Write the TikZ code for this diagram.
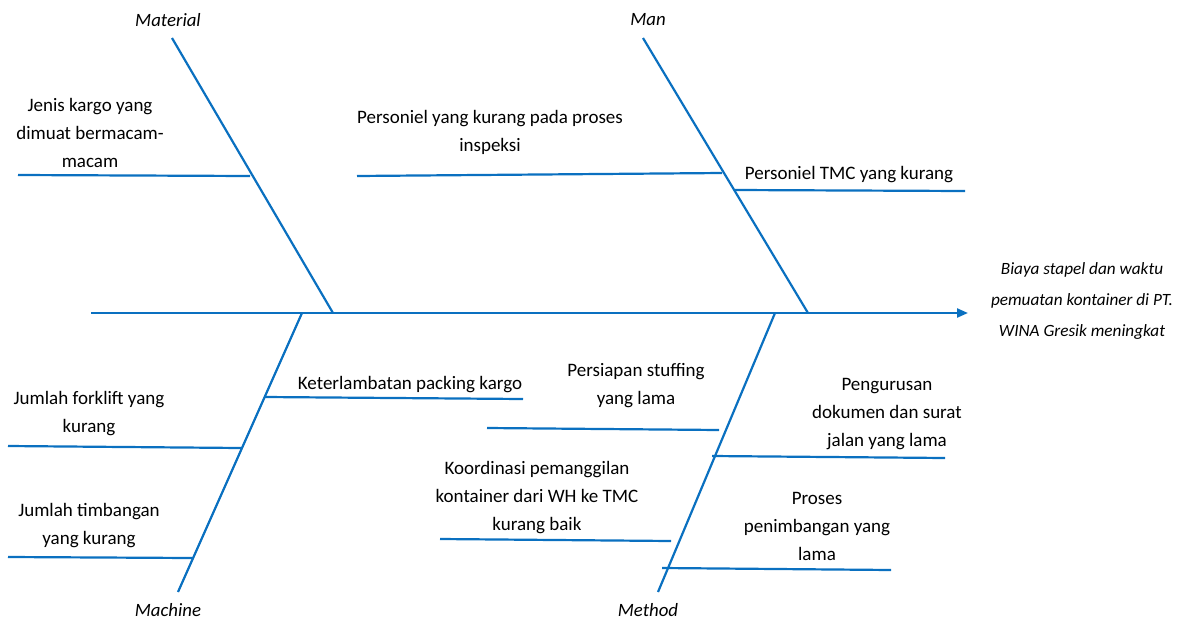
\documentclass[tikz,border=0pt]{standalone}
\usepackage{fontspec}
\setmainfont{Carlito}
\usetikzlibrary{arrows.meta}
\definecolor{bone}{HTML}{0A70C0}
\tikzset{
  bl/.style={draw=bone, line width=2.2pt},
  lbl/.style={align=center, font=\fontsize{19}{28}\selectfont, inner sep=0pt, text=black},
  cat/.style={font=\fontsize{18.8}{20}\selectfont\itshape, inner sep=0pt},
}
\begin{document}
\begin{tikzpicture}[x=1pt,y=-1pt]
\useasboundingbox (0,0) rectangle (1192,619);
% spine
\coordinate (s0) at (91,313);
\coordinate (s1) at (968,313);
\draw[bl, -{Triangle[length=11pt,width=9pt]}] (s0) -- (s1);
% bones
\coordinate (mat0) at (172,38);   \coordinate (mat1) at (333,313);
\coordinate (man0) at (643,38);   \coordinate (man1) at (808,313);
\coordinate (mac0) at (302,313);  \coordinate (mac1) at (178,592);
\coordinate (met0) at (775,313);  \coordinate (met1) at (658,592);
\draw[bl] (mat0) -- (mat1);
\draw[bl] (man0) -- (man1);
\draw[bl] (mac0) -- (mac1);
\draw[bl] (met0) -- (met1);
% category labels
\node[cat] (tmat) at (168,20) {Material};
\node[cat] (tman) at (648,20) {Man};
\node[cat] (tmac) at (168,610) {Machine};
\node[cat] (tmet) at (648,610) {Method};
% effect
\node[lbl, font=\fontsize{17.2}{31}\selectfont\itshape] (eff) at (1082,301) {Biaya stapel dan waktu\\pemuatan kontainer di PT.\\WINA Gresik meningkat};
% sub branches
\coordinate (a0) at (18,175);  \coordinate (a1) at (250,176);
\draw[bl] (a0) -- (a1);
\node[lbl] (ta) at (90,133) {Jenis kargo yang\\dimuat bermacam-\\macam};
\coordinate (b0) at (357,176); \coordinate (b1) at (722,173);
\draw[bl] (b0) -- (b1);
\node[lbl] (tb) at (490,132) {Personiel yang kurang pada proses\\inspeksi};
\coordinate (c0) at (735,190); \coordinate (c1) at (965,191);
\draw[bl] (c0) -- (c1);
\node[lbl] (tc) at (849,175) {Personiel TMC yang kurang};
\coordinate (d0) at (265,397); \coordinate (d1) at (523,399);
\draw[bl] (d0) -- (d1);
\node[lbl] (td) at (410,385) {Keterlambatan packing kargo};
\coordinate (e0) at (8,446); \coordinate (e1) at (241,448);
\draw[bl] (e0) -- (e1);
\node[lbl] (te) at (89,414) {Jumlah forklift yang\\kurang};
\coordinate (f0) at (8,557); \coordinate (f1) at (192,558);
\draw[bl] (f0) -- (f1);
\node[lbl] (tf) at (89,526) {Jumlah timbangan\\yang kurang};
\coordinate (g0) at (487,428); \coordinate (g1) at (719,430);
\draw[bl] (g0) -- (g1);
\node[lbl] (tg) at (636,386) {Persiapan stuffing\\yang lama};
\coordinate (h0) at (712,456); \coordinate (h1) at (945,458);
\draw[bl] (h0) -- (h1);
\node[lbl] (th) at (887,414) {Pengurusan\\dokumen dan surat\\jalan yang lama};
\coordinate (i0) at (440,539); \coordinate (i1) at (671,541);
\draw[bl] (i0) -- (i1);
\node[lbl] (ti) at (537,498) {Koordinasi pemanggilan\\kontainer dari WH ke TMC\\kurang baik};
\coordinate (j0) at (662,568); \coordinate (j1) at (891,570);
\draw[bl] (j0) -- (j1);
\node[lbl] (tj) at (817,526) {Proses\\penimbangan yang\\lama};
\end{tikzpicture}
\end{document}
